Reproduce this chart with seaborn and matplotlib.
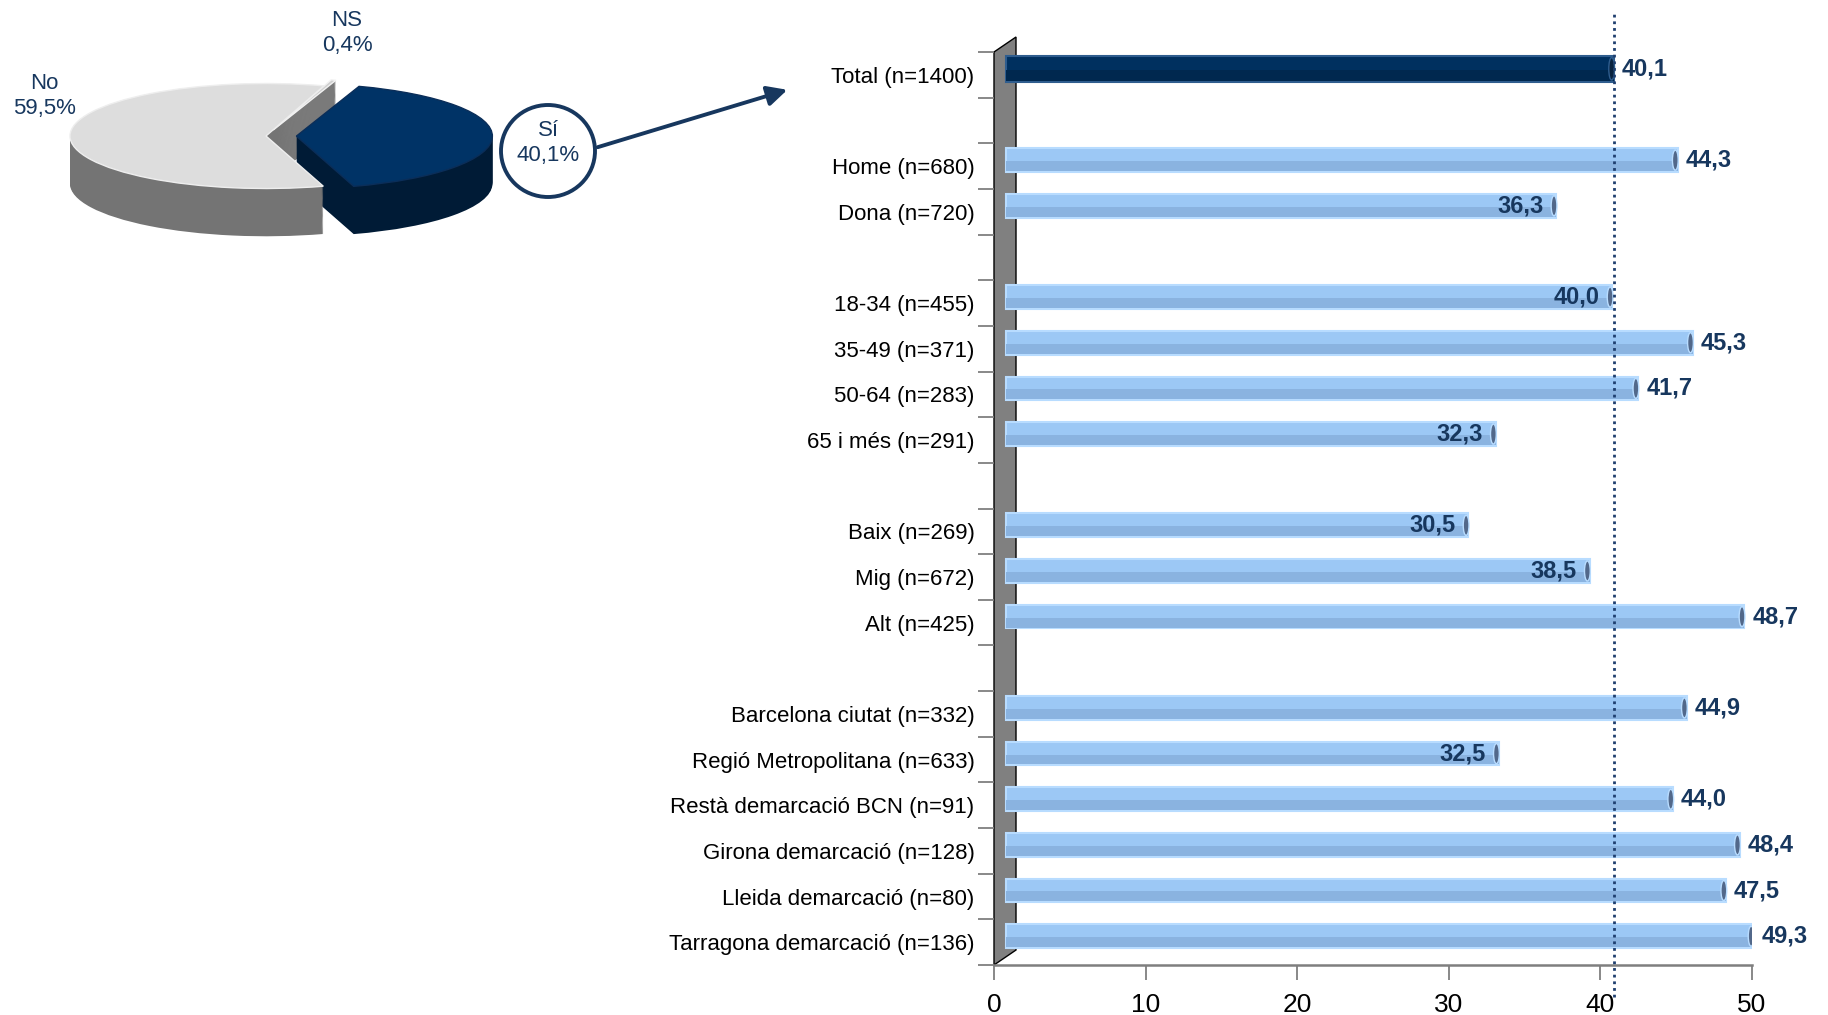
import numpy as np
import pandas as pd
import seaborn as sns
import matplotlib.pyplot as plt
from matplotlib import transforms
from matplotlib.patches import Ellipse, Polygon, FancyArrowPatch

# pie: answer shares
pie_labels = ["Sí", "NS", "No"]
pie_values = [40.1, 0.4, 59.5]

# bars: % by group
total_label = "Total (n=1400)"
total_value = 40.1
sub_labels = [
    "Home (n=680)", "Dona (n=720)",
    "18-34 (n=455)", "35-49 (n=371)", "50-64 (n=283)", "65 i més (n=291)",
    "Baix (n=269)", "Mig (n=672)", "Alt (n=425)",
    "Barcelona ciutat (n=332)", "Regió Metropolitana (n=633)",
    "Restà demarcació BCN (n=91)", "Girona demarcació (n=128)",
    "Lleida demarcació (n=80)", "Tarragona demarcació (n=136)",
]
sub_values = [44.3, 36.3, 40.0, 45.3, 41.7, 32.3, 30.5, 38.5, 48.7,
              44.9, 32.5, 44.0, 48.4, 47.5, 49.3]

row_order = [total_label, "gap1"] + sub_labels[:2] + ["gap2"] + sub_labels[2:6] \
    + ["gap3"] + sub_labels[6:9] + ["gap4"] + sub_labels[9:]

navy = "#17375E"

sns.set_theme(style="white")
plt.rcParams["font.family"] = ["Liberation Sans", "DejaVu Sans"]

W, H = 1828, 1015
fig = plt.figure(figsize=(W / 100, H / 100), dpi=100)

# ---------------- bar chart ----------------
ax_l, ax_b, ax_w, ax_h = 994, 965, 758, 913
ax = fig.add_axes([ax_l / W, (H - ax_b) / H, ax_w / W, ax_h / H])
slot_px = ax_h / len(row_order)

# bars sit on a plane slightly behind the wall front
shift = transforms.ScaledTranslation(0.12, 0.06, fig.dpi_scale_trans)


def cylinder(df, width, face, shade, edge, cap):
    n0 = len(ax.patches)
    sns.barplot(data=df, x="value", y="row", order=row_order, orient="h",
                color=face, width=width, edgecolor=edge, linewidth=1.5,
                saturation=1, errorbar=None, ax=ax)
    for p in ax.patches[n0:]:
        p.set_transform(ax.transData + shift)
    n1 = len(ax.patches)
    sns.barplot(data=df, x="value", y="row", order=row_order, orient="h",
                color=shade, width=width * 0.42, linewidth=0,
                saturation=1, errorbar=None, ax=ax)
    low = ax.transData + shift + transforms.ScaledTranslation(
        0, -width * 0.25 * slot_px / 100, fig.dpi_scale_trans)
    for p in ax.patches[n1:]:
        p.set_transform(low)
    for v, r in zip(df["value"], df["row"]):
        y = row_order.index(r)
        ax.add_patch(Ellipse((v - 0.15, y), 0.38, width * 0.85, facecolor=cap,
                             edgecolor=edge, lw=1,
                             transform=ax.transData + shift, zorder=3))


total_df = pd.DataFrame({"row": [total_label], "value": [total_value]})
sub_df = pd.DataFrame({"row": sub_labels, "value": sub_values})

cylinder(total_df, 0.58, "#00305F", "#00284F", "#2F5D8E", "#0A2440")
cylinder(sub_df, 0.52, "#9CC8F5", "#8AB3E0", "#B8DCFF", "#52688A")

# value labels
for r, v in [(total_label, total_value)] + list(zip(sub_labels, sub_values)):
    y = row_order.index(r)
    inside = r != total_label and v < total_value
    tr = transforms.offset_copy(ax.transData + shift, fig=fig,
                                x=-13 if inside else 8, y=0, units="dots")
    ax.text(v, y, f"{v:.1f}".replace(".", ","), transform=tr,
            ha="right" if inside else "left", va="center", fontsize=17,
            fontweight="bold", color=navy, zorder=4)

# dotted reference at the total
dot_tr = transforms.blended_transform_factory(ax.transData, ax.transAxes) \
    + transforms.ScaledTranslation(0.12, 0, fig.dpi_scale_trans)
ax.plot([total_value, total_value], [-32 / ax_h, 1 + 40 / ax_h],
        transform=dot_tr, clip_on=False, ls=(0, (1, 1.4)), lw=2,
        color="#1F3F6F", zorder=5)

# grey 3d wall
wall = Polygon([(0, 0), (0, 1), (22 / ax_w, 1 + 15 / ax_h), (22 / ax_w, 15 / ax_h)],
               closed=True, transform=ax.transAxes, facecolor="#808080",
               edgecolor="black", lw=1, clip_on=False, zorder=0.5)
ax.add_patch(wall)

ax.set_xlim(0, 50)
ax.set_ylim(len(row_order) - 0.5, -0.5)
ax.set_xticks(range(0, 51, 10))
ax.set_yticks(range(len(row_order)),
              labels=["" if r.startswith("gap") else r for r in row_order])
ax.set_yticks(np.arange(-0.5, len(row_order)), minor=True)
ax.tick_params(axis="y", which="major", left=False, length=0, pad=14,
               labelsize=16, labelcolor="black")
ax.tick_params(axis="y", which="minor", left=True, length=11.5, width=1.3,
               color="#7F7F7F", direction="out")
ax.tick_params(axis="x", bottom=True, length=11, width=1.3, color="#7F7F7F",
               pad=9, labelsize=19, direction="out", labelcolor="black")
for lab in ax.get_xticklabels():
    lab.set_family(["Liberation Sans Narrow", "Liberation Sans"])
ax.set_xlabel("")
ax.set_ylabel("")
sns.despine(ax=ax, top=True, right=True, left=True)
ax.spines["bottom"].set_color("#7F7F7F")
ax.spines["bottom"].set_linewidth(1.8)

# ---------------- 3d pie ----------------
pw, ph = 560, 300
pax = fig.add_axes([0, (H - ph) / H, pw / W, ph / H])
cx, cy, rx, ry = 266, 136, 196, 52.5
depth = 0.91
explode = [0.155, 0.12, 0.0]
tops = ["#003366", "#D0D0D0", "#DDDDDD"]
sides = ["#001B36", "#7A7A7A", "#747474"]
tops_edge = ["#0B2E59", "#F2F2F2", "#EEEEEE"]

for k in np.linspace(depth, 0.02, 45):
    pax.pie(pie_values, explode=explode, startangle=-73, colors=sides,
            center=(0, -k), wedgeprops=dict(linewidth=0))
wedges, _ = pax.pie(pie_values, explode=explode, startangle=-73, colors=tops,
                    center=(0, 0), wedgeprops=dict(linewidth=1))
for w, ec in zip(wedges, tops_edge):
    w.set_edgecolor(ec)
pax.set_aspect("auto")
pax.set_xlim(-cx / rx, (pw - cx) / rx)
pax.set_ylim(-(ph - cy) / ry, cy / ry)
pax.axis("off")

fig.text(44 / W, 1 - 96 / H, "No\n59,5%", ha="center", va="center",
         fontsize=16, color=navy, linespacing=1.3)
fig.text(347 / W, 1 - 33 / H, "NS\n0,4%", ha="center", va="center",
         fontsize=16, color=navy, linespacing=1.3)
fig.text(548 / W, 1 - 143 / H, "Sí\n40,1%", ha="center", va="center",
         fontsize=16, color=navy, linespacing=1.3)
fig.add_artist(Ellipse((548 / W, 1 - 151 / H), 94 / W, 92 / H,
                       transform=fig.transFigure, fill=False,
                       edgecolor=navy, lw=2.8))
fig.add_artist(FancyArrowPatch((595 / W, 1 - 148 / H), (790 / W, 1 - 89 / H),
                               transform=fig.transFigure,
                               arrowstyle="-|>,head_length=1.0,head_width=0.5",
                               mutation_scale=12, lw=2.8, color=navy))

fig.savefig("out.png", dpi=100)
